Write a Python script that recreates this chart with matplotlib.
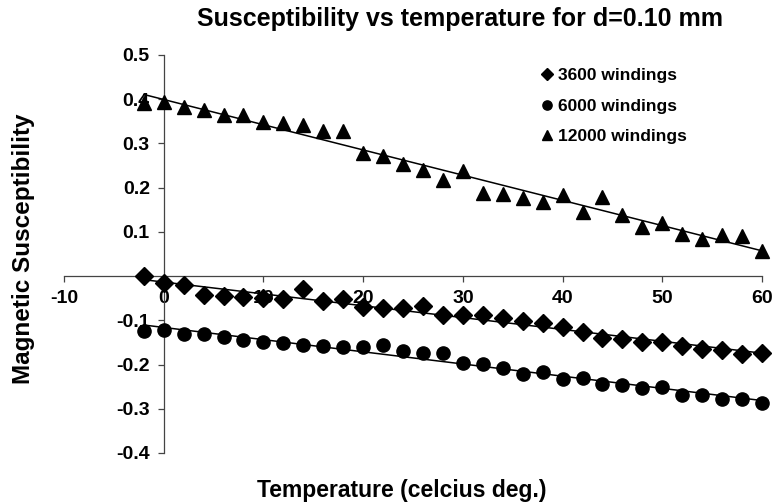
import numpy as np
import matplotlib
matplotlib.use('Agg')
import matplotlib.pyplot as plt

plt.rcParams['font.family'] = ['Liberation Sans', 'DejaVu Sans']
plt.rcParams['font.weight'] = 'bold'
plt.rcParams['axes.unicode_minus'] = False

# temperature (celcius deg.)
temp = [-2, 0, 2, 4, 6, 8, 10, 12, 14, 16, 18, 20, 22, 24, 26, 28, 30,
        32, 34, 36, 38, 40, 42, 44, 46, 48, 50, 52, 54, 56, 58, 60]

# susceptibility, one list per coil
w3600 = [0.000, -0.015, -0.021, -0.042, -0.044, -0.048, -0.049, -0.051,
         -0.030, -0.057, -0.052, -0.069, -0.073, -0.071, -0.067, -0.089,
         -0.087, -0.089, -0.094, -0.102, -0.107, -0.114, -0.126, -0.141,
         -0.143, -0.148, -0.148, -0.159, -0.165, -0.167, -0.177, -0.173]
w6000 = [-0.125, -0.122, -0.132, -0.130, -0.137, -0.145, -0.148, -0.152,
         -0.155, -0.157, -0.161, -0.161, -0.156, -0.170, -0.173, -0.173,
         -0.196, -0.198, -0.207, -0.222, -0.216, -0.233, -0.231, -0.243,
         -0.247, -0.254, -0.250, -0.269, -0.268, -0.278, -0.277, -0.286]
w12000 = [0.392, 0.393, 0.383, 0.376, 0.365, 0.365, 0.349, 0.347,
          0.342, 0.329, 0.327, 0.279, 0.272, 0.254, 0.240, 0.218,
          0.237, 0.188, 0.186, 0.177, 0.167, 0.184, 0.146, 0.179,
          0.139, 0.112, 0.121, 0.096, 0.085, 0.092, 0.090, 0.056]

labels = ['3600 windings', '6000 windings', '12000 windings']
markers = ['D', 'o', '^']
msizes = [9.3, 9.5, 10]

fig = plt.figure(figsize=(7.73, 5.04), dpi=100)
ax = fig.add_axes([0.0828, 0.1012, 0.9030, 0.7897])

t = np.array(temp)
handles = []
for y, lab, m, ms in zip([w3600, w6000, w12000], labels, markers, msizes):
    y = np.array(y)
    h, = ax.plot(t, y, ls='none', marker=m, ms=ms, color='black', zorder=3,
                 clip_on=False, label=lab)
    handles.append(h)
    # linear trendline
    k, b = np.polyfit(t, y, 1)
    ax.plot([t[0], t[-1]], [k*t[0]+b, k*t[-1]+b], color='black', lw=1.1, zorder=3)

ax.set_xlim(-10, 60)
ax.set_ylim(-0.4, 0.5)
ax.spines['left'].set_position(('data', 0))
ax.spines['bottom'].set_position(('data', 0))
ax.spines['top'].set_visible(False)
ax.spines['right'].set_visible(False)
for s in ['left', 'bottom']:
    ax.spines[s].set_color('#444444')
    ax.spines[s].set_linewidth(0.9)

ax.set_xticks(range(-10, 61, 10))
yt = [-0.4, -0.3, -0.2, -0.1, 0.1, 0.2, 0.3, 0.4, 0.5]
ax.set_yticks(yt)
ax.set_yticklabels(['%g' % v for v in yt])
ax.tick_params(direction='out', length=4, width=0.9, color='#444444',
               labelsize=14, pad=6)

fig.text(0.595, 0.962, 'Susceptibility vs temperature for d=0.10 mm',
         ha='center', va='center', fontsize=18, fontweight='bold')
fig.text(0.52, 0.027, 'Temperature (celcius deg.)', ha='center', va='center',
         fontsize=16.5, fontweight='bold')
fig.text(0.031, 0.507, 'Magnetic Susceptibility', ha='center', va='center',
         rotation=90, fontsize=17.5, fontweight='bold')

ax.legend(handles=handles, loc='upper left', bbox_to_anchor=(0.69, 0.883),
          bbox_transform=fig.transFigure, frameon=False, fontsize=12.5,
          markerscale=0.7, handlelength=0.6, handletextpad=0.3,
          labelspacing=0.9, borderpad=0)

fig.savefig('out.png', dpi=100)
